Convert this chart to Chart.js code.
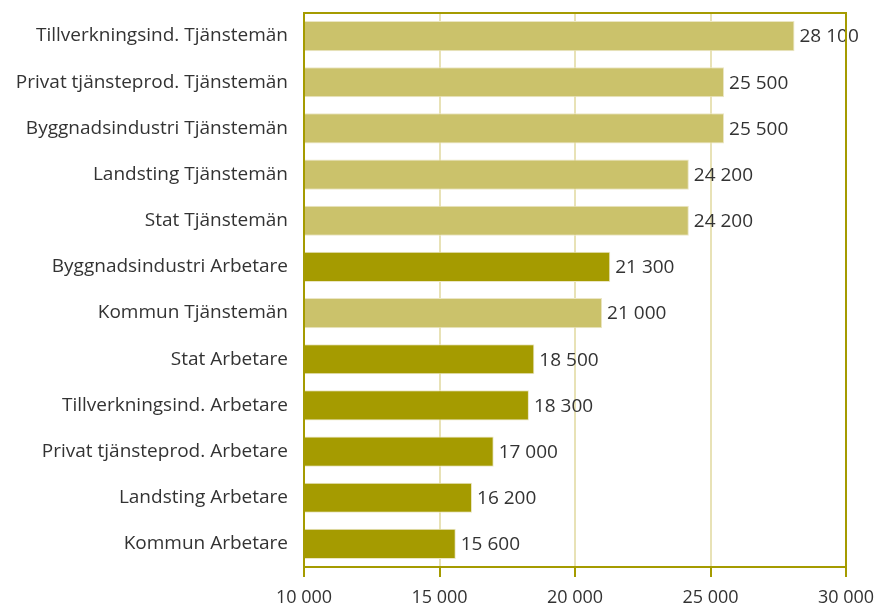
<!DOCTYPE html>
<html lang="sv">
<head>
  <meta charset="UTF-8">
  <title>Löner per sektor och grupp</title>
  <script src="https://cdn.jsdelivr.net/npm/chart.js"></script>
  <style>
    html, body { margin: 0; padding: 0; background: #fff; overflow: hidden; }
    #wrap { width: 878px; height: 606px; }
  </style>
</head>
<body>
  <div id="wrap"><canvas id="chart"></canvas></div>

  <script>
    const categories = [
      'Tillverkningsind. Tjänstemän',
      'Privat tjänsteprod. Tjänstemän',
      'Byggnadsindustri Tjänstemän',
      'Landsting Tjänstemän',
      'Stat Tjänstemän',
      'Byggnadsindustri Arbetare',
      'Kommun Tjänstemän',
      'Stat Arbetare',
      'Tillverkningsind. Arbetare',
      'Privat tjänsteprod. Arbetare',
      'Landsting Arbetare',
      'Kommun Arbetare'
    ];
    const values = [28100, 25500, 25500, 24200, 24200, 21300, 21000, 18500, 18300, 17000, 16200, 15600];
    const xTicks = [10000, 15000, 20000, 25000, 30000];

    const LIGHT = '#cbc26b';
    const DARK = '#a59b00';
    const GRID = '#e8e2b6';
    const TEXT = '#333333';
    const FONT = '"Open Sans"';

    // svenskt tusentalsformat: 28 100
    const fmt = v => String(v).replace(/\B(?=(\d{3})+(?!\d))/g, ' ');

    // ram runt ritytan
    const framePlugin = {
      id: 'frame',
      afterDraw(chart) {
        const { ctx, chartArea: a } = chart;
        ctx.save();
        ctx.strokeStyle = DARK;
        ctx.lineWidth = 2;
        ctx.strokeRect(a.left, a.top, a.right - a.left, a.bottom - a.top);
        ctx.restore();
      }
    };

    // värdeetiketter efter staplarna
    const valueLabels = {
      id: 'valueLabels',
      afterDatasetsDraw(chart) {
        const { ctx } = chart;
        const meta = chart.getDatasetMeta(0);
        ctx.save();
        ctx.font = '19px ' + FONT;
        ctx.fillStyle = TEXT;
        ctx.textAlign = 'left';
        ctx.textBaseline = 'middle';
        meta.data.forEach((bar, i) => {
          ctx.fillText(fmt(values[i]), bar.x + 5, bar.y + 1);
        });
        ctx.restore();
      }
    };

    new Chart(document.getElementById('chart'), {
      type: 'bar',
      data: {
        labels: categories,
        datasets: [{
          data: values,
          backgroundColor: categories.map(c => c.endsWith('Arbetare') ? DARK : LIGHT),
          borderColor: '#ebe6c4',
          borderWidth: 1,
          borderSkipped: 'left',
          barPercentage: 0.652,
          categoryPercentage: 1
        }]
      },
      options: {
        indexAxis: 'y',
        responsive: true,
        maintainAspectRatio: false,
        animation: false,
        layout: { padding: { top: 13, right: 32, bottom: 0, left: 0 } },
        plugins: {
          legend: { display: false },
          tooltip: { enabled: false }
        },
        scales: {
          x: {
            min: 10000,
            max: 30000,
            afterBuildTicks: scale => { scale.ticks = xTicks.map(v => ({ value: v })); },
            afterFit: scale => {
              scale.height = 39;
              scale.paddingLeft = 0;
              scale.paddingRight = 0;
            },
            grid: {
              color: GRID,
              lineWidth: 2,
              tickColor: DARK,
              tickLength: 10
            },
            border: { display: false },
            ticks: {
              padding: 10,
              color: TEXT,
              font: { family: FONT, size: 18 },
              maxRotation: 0,
              callback: v => fmt(v)
            }
          },
          y: {
            afterFit: scale => {
              scale.width = 304;
              scale.paddingTop = 0;
              scale.paddingBottom = 0;
            },
            grid: { display: false, drawTicks: false },
            border: { display: false },
            ticks: {
              padding: 16,
              color: TEXT,
              font: { family: FONT, size: 19 }
            }
          }
        }
      },
      plugins: [framePlugin, valueLabels]
    });
  </script>
</body>
</html>
